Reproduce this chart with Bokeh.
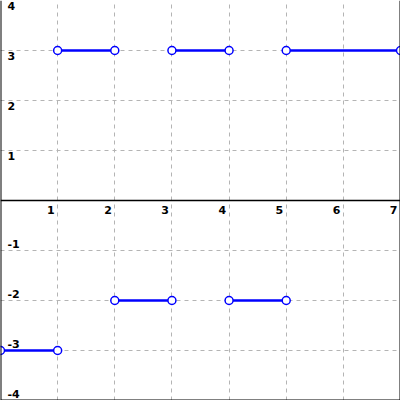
from bokeh.plotting import figure
from bokeh.models import Range1d, FixedTicker, Span, ColumnDataSource
from bokeh.core.properties import value
from bokeh.embed import file_html
from bokeh.resources import INLINE

# data: step segments (open at both ends)
seg_x0 = [0, 1, 2, 3, 4, 5]
seg_x1 = [1, 2, 3, 4, 5, 7]
seg_y = [-3, 3, -2, 3, -2, 3]

x_ticks = [1, 2, 3, 4, 5, 6, 7]
x_labels = ["1", "2", "3", "4", "5", "6", "7"]
y_ticks_pos = [1, 2, 3, 4]
y_labels_pos = ["1", "2", "3", "4"]
y_ticks_neg = [-1, -2, -3, -4]
y_labels_neg = ["-1", "-2", "-3", "-4"]

X0, X1, Y0, Y1 = 0, 7, -4, 4
W, H = 400, 400

p = figure(width=W, height=H, x_range=Range1d(X0, X1), y_range=Range1d(Y0, Y1),
           output_backend="svg", toolbar_location=None, min_border=0,
           background_fill_color="white", border_fill_color="white")
p.outline_line_color = None
p.xaxis.visible = False
p.yaxis.visible = False
p.xgrid.ticker = FixedTicker(ticks=list(range(1, 7)))
p.ygrid.ticker = FixedTicker(ticks=[-3, -2, -1, 1, 2, 3])
for g in (p.xgrid, p.ygrid):
    g.grid_line_color = "#b4b4b4"
    g.grid_line_dash = "4 4"
    g.grid_line_width = 1

# axis lines
p.add_layout(Span(location=0, dimension="height", line_color="black", line_width=2))
p.add_layout(Span(location=0, dimension="width", line_color="black", line_width=1.5))
# right / bottom border
px_x = (X1 - X0) / W
px_y = (Y1 - Y0) / H
p.add_layout(Span(location=X1 - 0.5 * px_x, dimension="height", line_color="black", line_width=1))
p.add_layout(Span(location=Y0 + 0.5 * px_y, dimension="width", line_color="black", line_width=1))

src = ColumnDataSource(dict(x0=seg_x0, x1=seg_x1, y=seg_y))
p.segment(x0="x0", y0="y", x1="x1", y1="y", source=src, line_color="#0000ff", line_width=2.5)
p.scatter(x="x0", y="y", source=src, size=8, fill_color="white", line_color="#0000ff", line_width=1.5)
p.scatter(x="x1", y="y", source=src, size=8, fill_color="white", line_color="#0000ff", line_width=1.5)

font = value("DejaVu Sans")
p.text(x=x_ticks, y=[0] * len(x_ticks), text=x_labels, text_align="right", text_baseline="top",
       x_offset=-3, y_offset=5, text_font=font, text_font_size="11px", text_font_style="bold",
       text_color="black")
p.text(x=[0] * 4, y=y_ticks_pos, text=y_labels_pos, text_align="left", text_baseline="top",
       x_offset=7, y_offset=1, text_font=font, text_font_size="11px", text_font_style="bold",
       text_color="black")
p.text(x=[0] * 4, y=y_ticks_neg, text=y_labels_neg, text_align="left", text_baseline="bottom",
       x_offset=7, y_offset=-3, text_font=font, text_font_size="11px", text_font_style="bold",
       text_color="black")

open("out.html", "w").write(file_html(p, INLINE))
